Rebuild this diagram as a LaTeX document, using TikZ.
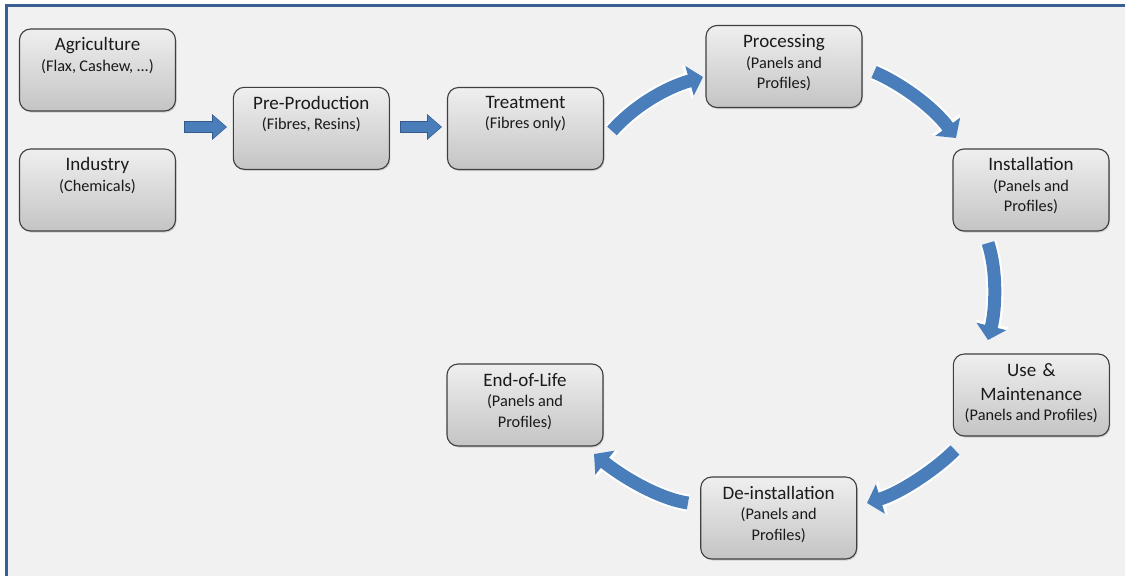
\documentclass[tikz,border=0pt]{standalone}
\usepackage{fontspec}
\setmainfont{Carlito}
\usetikzlibrary{arrows.meta,shadows}
\definecolor{bgcol}{HTML}{F1F1F1}
\definecolor{frameblue}{HTML}{3A5F94}
\definecolor{arrowblue}{HTML}{4A7EBB}
\definecolor{arrowdark}{HTML}{35598A}
\definecolor{boxtop}{HTML}{EFEFEF}
\definecolor{boxbot}{HTML}{C4C4C4}
\definecolor{boxline}{HTML}{3F3F3F}
\definecolor{txtcol}{HTML}{1A1A1A}
\newcommand\subt{\fontsize{16.3}{20.5}\selectfont\spaceskip=0.19em plus 0.02em}
\begin{document}
\begin{tikzpicture}[x=1pt,y=-1pt,
  box/.style={rounded corners=11pt, minimum width=156pt, minimum height=82pt,
    draw=boxline, line width=1.1pt, top color=boxtop, bottom color=boxbot,
    drop shadow={opacity=0.3, shadow xshift=1pt, shadow yshift=-1.5pt}, inner sep=0pt},
  boxtext/.style={anchor=north, text width=152pt, align=center, inner sep=0pt,
    font=\fontsize{19}{20.5}\selectfont, text=txtcol},
  halo/.style={draw=white, line width=17pt, -{Triangle[width=35pt,length=17pt]}},
  curvy/.style={draw=arrowblue, line width=13pt, -{Triangle[width=30pt,length=14pt]}},
  straightdark/.style={draw=arrowdark, line width=12pt, -{Triangle[width=25pt,length=15pt]}},
  straightblue/.style={draw=arrowblue, line width=10pt, -{Triangle[width=21.5pt,length=13pt]}}
]
\useasboundingbox (0,0) rectangle (1125,576);
\fill[white] (0,0) rectangle (1125,576);
\fill[bgcol] (5,4) rectangle (1125,576);
\draw[frameblue, line width=3pt] (6.5,576) -- (6.5,5.5) -- (1125,5.5);

% boxes
\node[box] (agri) at (97.5,70) {};
\node[box] (indu) at (97.5,190) {};
\node[box] (prep) at (311.3,128.3) {};
\node[box] (treat) at (525.5,128.5) {};
\node[box] (proc) at (784,66.5) {};
\node[box] (inst) at (1031,190) {};
\node[box] (usem) at (1031.3,395) {};
\node[box] (dein) at (778.7,518) {};
\node[box] (eol) at (525,405) {};

% texts
\node[boxtext] (agri-t) at ([yshift=-9pt]agri.north) {Agriculture\\{\subt (Flax, Cashew, ...)}};
\node[boxtext] (indu-t) at ([yshift=-9pt]indu.north) {Industry\\{\subt (Chemicals)}};
\node[boxtext] (prep-t) at ([yshift=-9pt]prep.north) {Pre-Production\\{\subt (Fibres, Resins)}};
\node[boxtext] (treat-t) at ([yshift=-9pt]treat.north) {Treatment\\{\subt (Fibres only)}};
\node[boxtext] (proc-t) at ([yshift=-9.5pt]proc.north) {Processing\\{\subt (Panels and\\Profiles)}};
\node[boxtext] (inst-t) at ([yshift=-9pt]inst.north) {Installation\\{\subt (Panels and\\Profiles)}};
\node[boxtext] (usem-t) at ([yshift=-9.5pt]usem.north) {Use \&\\[3.5pt]Maintenance\\{\subt (Panels and Profiles)}};
\node[boxtext] (dein-t) at ([yshift=-9.5pt]dein.north) {De-installation\\{\subt (Panels and\\Profiles)}};
\node[boxtext] (eol-t) at ([yshift=-9.5pt]eol.north) {End-of-Life\\{\subt (Panels and\\Profiles)}};

% straight arrows
\coordinate (s1a) at (184,127);
\coordinate (s1b) at (227,127);
\coordinate (s2a) at (400,127);
\coordinate (s2b) at (442,127);
\draw[straightdark] (s1a) -- (s1b);
\draw[straightblue] ([xshift=1pt]s1a) -- ([xshift=-1pt]s1b);
\draw[straightdark] (s2a) -- (s2b);
\draw[straightblue] ([xshift=1pt]s2a) -- ([xshift=-1pt]s2b);

% curved arrows
\coordinate (c1a) at (612,131);
\coordinate (c1b) at (703,77);
\coordinate (c2a) at (874,72);
\coordinate (c2b) at (956,138);
\coordinate (c3a) at (988,243);
\coordinate (c3b) at (988,340);
\coordinate (c4a) at (955,450);
\coordinate (c4b) at (867,503);
\coordinate (c5a) at (688,503);
\coordinate (c5b) at (594,454);

\foreach \st in {halo,curvy}{
  \draw[\st] (c1a) .. controls (636,104) and (668,87) .. (c1b);
  \draw[\st] (c2a) .. controls (902,84) and (934,108) .. (c2b);
  \draw[\st] (c3a) .. controls (997,270) and (996,308) .. (c3b);
  \draw[\st] (c4a) .. controls (935,470) and (900,493) .. (c4b);
  \draw[\st] (c5a) .. controls (660,499) and (624,478) .. (c5b);
}
\end{tikzpicture}
\end{document}
